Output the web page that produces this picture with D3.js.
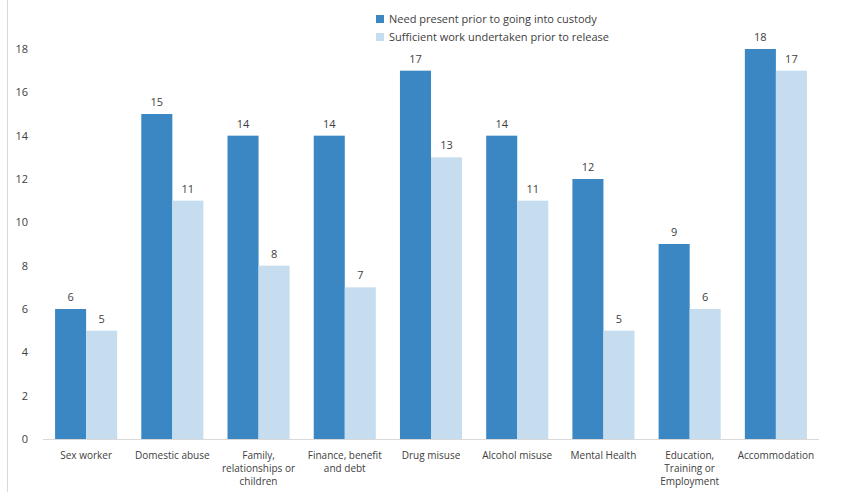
<!DOCTYPE html>
<html><head><meta charset="utf-8">
<script src="https://cdn.jsdelivr.net/npm/d3@7"></script>
<style>body{margin:0;background:#fff}svg{display:block;font-family:"Open Sans",sans-serif}</style>
</head><body><svg id="c" width="841" height="492"></svg>
<script>
const categories = [["Sex worker"],["Domestic abuse"],["Family,","relationships or","children"],["Finance, benefit","and debt"],["Drug misuse"],["Alcohol misuse"],["Mental Health"],["Education,","Training or","Employment"],["Accommodation"]];
const needPresent = [6,15,14,14,17,14,12,9,18];
const sufficientWork = [5,11,8,7,13,11,5,6,17];
const seriesNames = ["Need present prior to going into custody","Sufficient work undertaken prior to release"];
const colors = ["#3a87c4","#c6ddf0"];
const yTicks = [0,2,4,6,8,10,12,14,16,18];

const svg = d3.select("#c");
const x = d3.scaleBand().domain(d3.range(categories.length)).range([43,819]).paddingInner(0.28).paddingOuter(0.14);
const y = d3.scaleLinear().domain([0,18]).range([439,49]);
const xs = d3.scaleBand().domain([0,1]).range([0,x.bandwidth()]);

svg.append("line").attr("x1",7.5).attr("x2",7.5).attr("y1",0).attr("y2",492).attr("stroke","#d9d9d9");

const yAxis = svg.append("g").attr("transform","translate(28,0)")
  .call(d3.axisLeft(y).tickValues(yTicks).tickSize(0).tickPadding(0));
yAxis.select(".domain").remove();
yAxis.selectAll("text").attr("fill","#404040").style("font-size","11px").style("font-family","Open Sans");

const data = [needPresent, sufficientWork];
data.forEach((vals,s)=>{
  const g = svg.append("g");
  g.selectAll("rect").data(vals).join("rect")
    .attr("x",(d,i)=>x(i)+xs(s)).attr("width",xs.bandwidth())
    .attr("y",d=>y(d)).attr("height",d=>y(0)-y(d)).attr("fill",colors[s]);
  g.selectAll("text").data(vals).join("text")
    .attr("x",(d,i)=>x(i)+xs(s)+xs.bandwidth()/2).attr("y",d=>y(d)-8)
    .attr("text-anchor","middle").attr("fill","#404040").style("font-size","11px").text(d=>d);
});

svg.append("line").attr("x1",43).attr("x2",819).attr("y1",439.5).attr("y2",439.5).attr("stroke","#d9d9d9");

const xl = svg.append("g");
categories.forEach((lines,i)=>{
  const t = xl.append("text").attr("x",x(i)+x.bandwidth()/2).attr("y",459).attr("text-anchor","middle")
    .attr("fill","#404040").style("font-size","10px");
  lines.forEach((l,j)=>t.append("tspan").attr("x",x(i)+x.bandwidth()/2).attr("dy",j?13:0).text(l));
});

const leg = svg.append("g");
seriesNames.forEach((n,i)=>{
  leg.append("rect").attr("x",376).attr("y",15+i*18).attr("width",8).attr("height",8).attr("fill",colors[i]);
  leg.append("text").attr("x",389).attr("y",23+i*18).attr("fill","#404040").style("font-size","11px").text(n);
});
</script></body></html>
